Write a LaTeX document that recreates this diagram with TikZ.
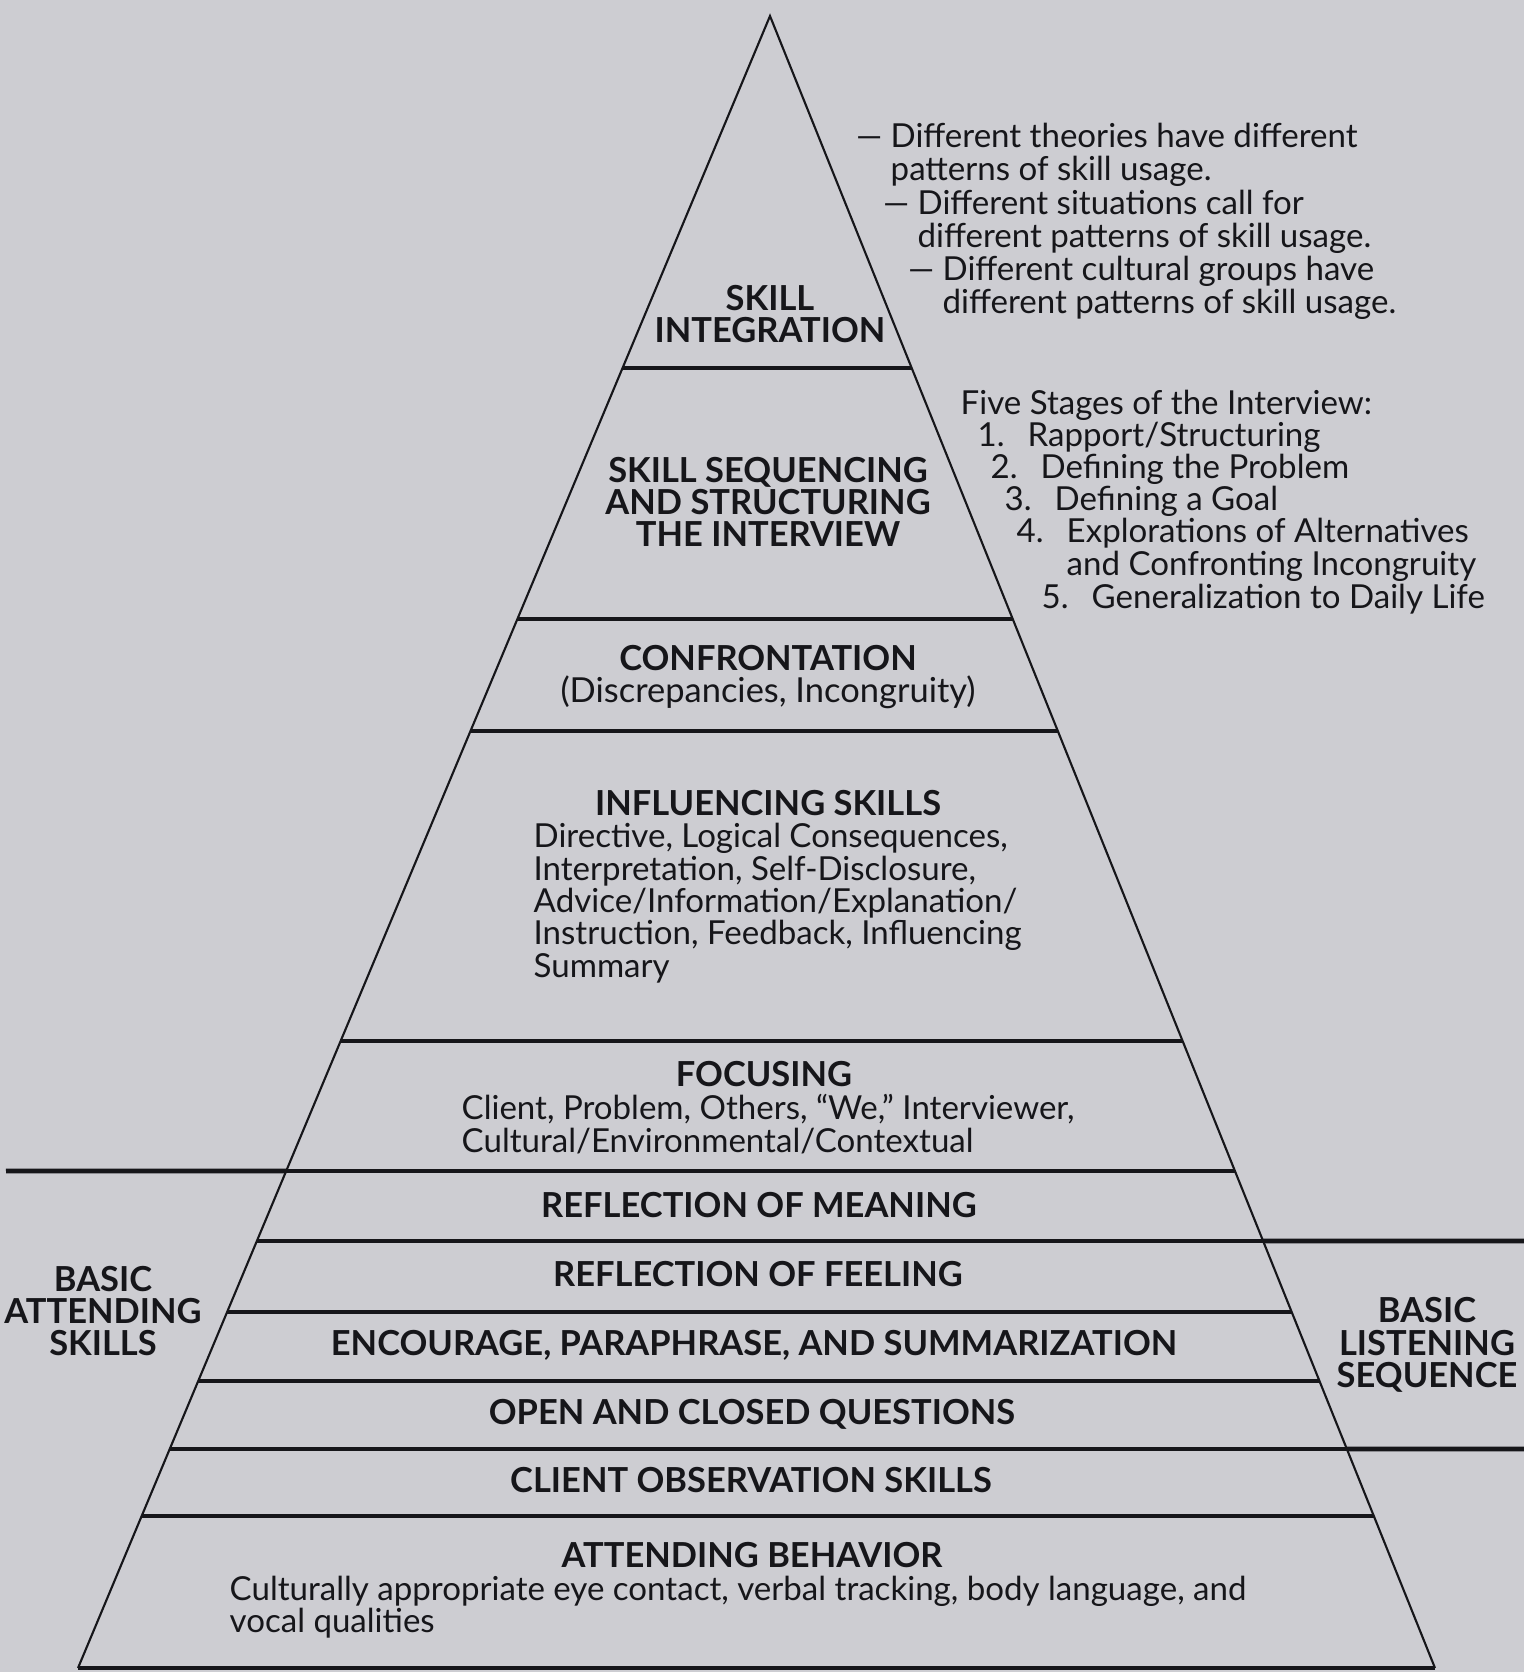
\documentclass[tikz,border=0pt]{standalone}
\usepackage{fontspec}
\setmainfont{Lato}
\usetikzlibrary{calc}
\definecolor{paper}{RGB}{205,205,210}
\definecolor{ink}{RGB}{22,22,26}
\tikzset{
    side/.style={draw=ink,line width=0.6pt},
    tier/.style={draw=ink,line width=1.4pt},
    head/.style={align=center,inner sep=0pt,text=ink,font=\fontsize{9.8}{9.2}\selectfont\bfseries},
    body/.style={align=left,anchor=west,inner sep=0pt,text=ink,font=\fontsize{9.4}{9.2}\selectfont},
    note/.style={body},
}
\newcommand{\Num}[1]{\llap{\makebox[0.5cm][l]{#1}}}

\begin{document}
\begin{tikzpicture}[x=0.01cm,y=-0.01cm]
    \fill[paper] (0,0) rectangle (1524,1672);
    \useasboundingbox (0,0) rectangle (1524,1672);

    \coordinate (apex) at (770,16);
    \coordinate (bl) at (78,1668);
    \coordinate (br) at (1435,1668);
    \draw[side] (bl) -- (apex) -- (br);
    \draw[tier] (bl) -- (br);

    % tiers of the pyramid
    \foreach \yy [count=\i] in {368,619,731,1041,1171,1241,1312,1381,1449,1516}{
        \coordinate (l\i) at ($(apex)!{(\yy-16)/1652}!(bl)$);
        \coordinate (r\i) at ($(apex)!{(\yy-16)/1652}!(br)$);
        \draw[tier] (l\i) -- (r\i);
    }
    \coordinate (attend-end) at (6,1171);
    \coordinate (listen-top) at (1524,1241);
    \coordinate (listen-bot) at (1524,1449);
    \draw[tier] (attend-end) -- (l5);
    \draw[tier] (r6) -- (listen-top);
    \draw[tier] (r9) -- (listen-bot);

    \node[head] (integ) at (770,314) {SKILL\\INTEGRATION};
    \node[head] (seq) at (768,502) {SKILL SEQUENCING\\AND STRUCTURING\\THE INTERVIEW};
    \node[head] (confront) at (768,677) {CONFRONTATION\\\mdseries(Discrepancies, Incongruity)};
    \node[head] (influ) at (768,803) {INFLUENCING SKILLS};
    \node[body] (influ-text) at (533,903) {Directive, Logical Consequences,\\Interpretation, Self-Disclosure,\\Advice/Information/Explanation/\\Instruction, Feedback, Influencing\\Summary};
    \node[head] (focus) at (764,1074) {FOCUSING};
    \node[body] (focus-text) at (461,1124) {Client, Problem, Others, ``We,'' Interviewer,\\Cultural/Environmental/Contextual};
    \node[head] (meaning) at (759,1205) {REFLECTION OF MEANING};
    \node[head] (feeling) at (758,1274) {REFLECTION OF FEELING};
    \node[head] (encourage) at (754,1345) {ENCOURAGE, PARAPHRASE, AND SUMMARIZATION};
    \node[head] (questions) at (752,1414) {OPEN AND CLOSED QUESTIONS};
    \node[head] (observe) at (751,1480) {CLIENT OBSERVATION SKILLS};
    \node[head] (attend) at (752,1555) {ATTENDING BEHAVIOR};
    \node[body] (attend-text) at (229,1607) {Culturally appropriate eye contact, verbal tracking, body language, and\\vocal qualities};

    \node[head] (basic-attend) at (103,1311) {BASIC\\ATTENDING\\SKILLS};
    \node[head] (basic-listen) at (1427,1345) {BASIC\\LISTENING\\SEQUENCE};

    % notes beside the top
    \node[note] (theory) at (890,155) {\llap{---\ }Different theories have different\\patterns of skill usage.};
    \node[note] (situation) at (917,222) {\llap{---\ }Different situations call for\\different patterns of skill usage.};
    \node[note] (culture) at (942,288) {\llap{---\ }Different cultural groups have\\different patterns of skill usage.};

    \node[note] (stages) at (960,405) {Five Stages of the Interview:};
    \node[note] (stage1) at (1027,437) {\Num{1.}Rapport/Structuring};
    \node[note] (stage2) at (1040,469) {\Num{2.}Defining the Problem};
    \node[note] (stage3) at (1054,501) {\Num{3.}Defining a Goal};
    \node[note] (stage4) at (1066,550) {\Num{4.}Explorations of Alternatives\\and Confronting Incongruity};
    \node[note] (stage5) at (1091,599) {\Num{5.}Generalization to Daily Life};
\end{tikzpicture}
\end{document}
